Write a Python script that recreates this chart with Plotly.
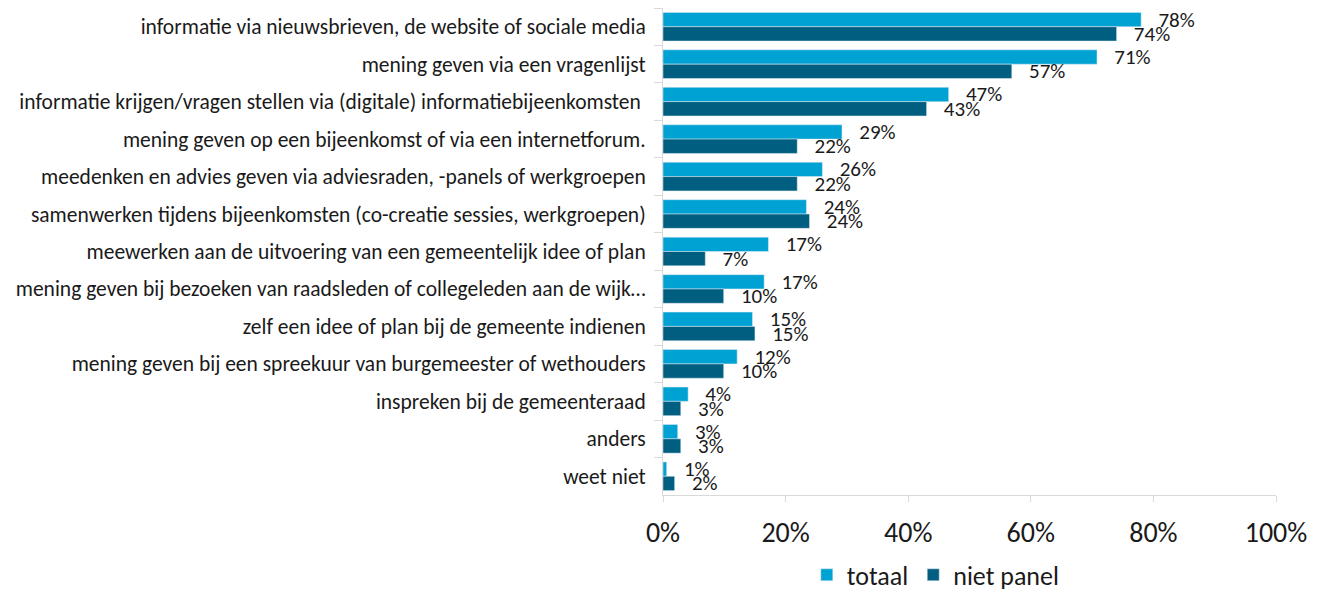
import plotly.graph_objects as go

categories = [
    "informatie via nieuwsbrieven, de website of sociale media",
    "mening geven via een vragenlijst",
    "informatie krijgen/vragen stellen via (digitale) informatiebijeenkomsten ",
    "mening geven op een bijeenkomst of via een internetforum.",
    "meedenken en advies geven via adviesraden, -panels of werkgroepen",
    "samenwerken tijdens bijeenkomsten (co-creatie sessies, werkgroepen)",
    "meewerken aan de uitvoering van een gemeentelijk idee of plan",
    "mening geven bij bezoeken van raadsleden of collegeleden aan de wijk…",
    "zelf een idee of plan bij de gemeente indienen",
    "mening geven bij een spreekuur van burgemeester of wethouders",
    "inspreken bij de gemeenteraad",
    "anders",
    "weet niet",
]

totaal = [78.0, 70.8, 46.6, 29.2, 26.0, 23.4, 17.2, 16.5, 14.6, 12.1, 4.1, 2.4, 0.6]
niet_panel = [74.0, 56.9, 43.0, 21.9, 21.9, 23.9, 6.9, 9.9, 15.0, 9.9, 2.9, 2.9, 1.9]

labels_totaal = ["78%", "71%", "47%", "29%", "26%", "24%", "17%", "17%", "15%", "12%", "4%", "3%", "1%"]
labels_niet_panel = ["74%", "57%", "43%", "22%", "22%", "24%", "7%", "10%", "15%", "10%", "3%", "3%", "2%"]

FONT = "Calibri, Carlito, 'Liberation Sans Narrow', 'Open Sans', sans-serif"
pad = "\u00a0\u00a0\u00a0"

fig = go.Figure()
for name, values, labels, color in [
    ("totaal", totaal, labels_totaal, "#00A1D3"),
    ("niet panel", niet_panel, labels_niet_panel, "#005F80"),
]:
    fig.add_bar(
        y=categories,
        x=[v / 100 for v in values],
        orientation="h",
        name=name,
        marker_color=color,
        text=[pad + t for t in labels],
        textposition="outside",
        constraintext="none",
        cliponaxis=False,
        textfont=dict(size=21, color="#1a1a1a", family=FONT),
    )

# page body has an 8px margin, so the figure is drawn 8px in from the corner
fig.update_layout(
    width=1319,
    height=582,
    barmode="group",
    bargap=0.235,
    bargroupgap=0,
    plot_bgcolor="white",
    paper_bgcolor="white",
    font=dict(family=FONT, color="#1a1a1a"),
    margin=dict(l=655, r=51, t=0, b=95),
    showlegend=True,
    legend=dict(
        orientation="h",
        x=0.445,
        xanchor="center",
        yref="container",
        y=0.026,
        yanchor="middle",
        font=dict(size=26, family=FONT),
        traceorder="normal",
        itemwidth=30,
    ),
)
fig.update_xaxes(
    range=[0, 1],
    tickvals=[0, 0.2, 0.4, 0.6, 0.8, 1.0],
    tickformat=".0%",
    showgrid=False,
    zeroline=False,
    showline=True,
    linecolor="#D9D9D9",
    linewidth=1,
    ticks="outside",
    ticklen=6,
    tickcolor="#D9D9D9",
    tickfont=dict(size=28, family=FONT),
    ticklabelstandoff=6,
)
fig.update_yaxes(
    autorange="reversed",
    showgrid=False,
    showline=True,
    linecolor="#D9D9D9",
    linewidth=1,
    ticks="outside",
    tickson="boundaries",
    ticklen=8,
    tickcolor="#D9D9D9",
    tickfont=dict(size=21.5, family=FONT),
    ticklabelstandoff=12,
)

fig.write_html("out.html")
